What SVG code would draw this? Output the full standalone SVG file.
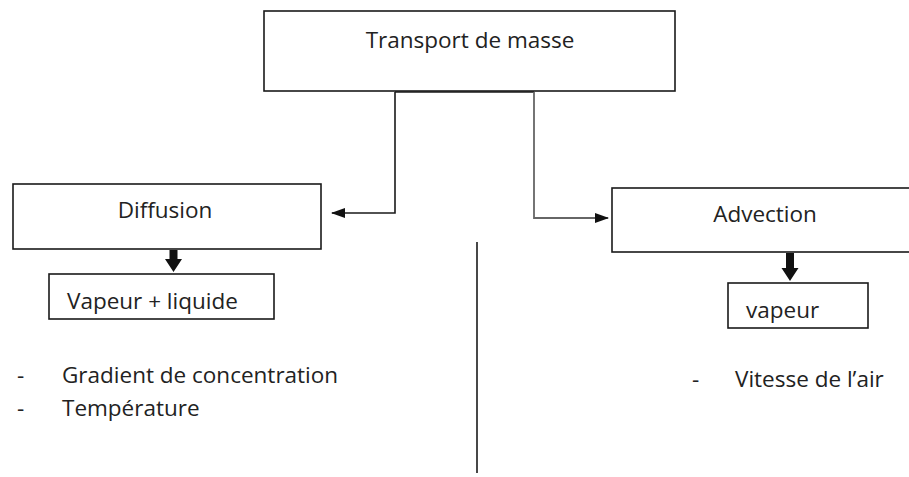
<svg xmlns="http://www.w3.org/2000/svg" width="909" height="477" viewBox="0 0 909 477">
<style>
.box{fill:#fff;stroke:#1a1a1a;stroke-width:1.6}
.t{font-family:"Open Sans","Noto Sans",sans-serif;font-size:22.5px;fill:#222}
.c{fill:none;stroke:#1a1a1a;stroke-width:1.6}
.g{fill:none;stroke:#666;stroke-width:1.8}
.blk{fill:#111}
</style>
<defs>
<marker id="ah" viewBox="0 0 14 10" refX="13" refY="5" markerWidth="14" markerHeight="10" markerUnits="userSpaceOnUse" orient="auto">
<path d="M0,0 L14,5 L0,10 Z" fill="#111"/>
</marker>
</defs>
<rect width="909" height="477" fill="#fff"/>
<g id="connectors">
<path class="c" d="M395,92 V213 H332" marker-end="url(#ah)"/>
<path class="c" d="M395,92 H534"/>
<path class="g" d="M534,92 V218 H608" marker-end="url(#ah)"/>
<path class="blk" d="M169.5,250 H177.5 V259 H182 L173.5,272 L165,259 H169.5 Z"/>
<path class="blk" d="M786,253 H794 V268 H798.5 L790,281 L781.5,268 H786 Z"/>
<line class="c" x1="477" y1="242" x2="477" y2="473"/>
</g>
<g id="transport">
<rect class="box" x="264" y="11" width="411" height="80"/>
<text class="t" x="470" y="48" text-anchor="middle">Transport de masse</text>
</g>
<g id="diffusion">
<rect class="box" x="13" y="184" width="308" height="65"/>
<text class="t" x="165" y="218" text-anchor="middle">Diffusion</text>
</g>
<g id="vapeur-liquide">
<rect class="box" x="49" y="274" width="225" height="45"/>
<text class="t" x="67" y="309">Vapeur + liquide</text>
</g>
<g id="advection">
<rect class="box" x="612" y="188" width="310" height="64"/>
<text class="t" x="765" y="222" text-anchor="middle">Advection</text>
</g>
<g id="vapeur">
<rect class="box" x="728" y="283" width="140" height="45"/>
<text class="t" x="746" y="318">vapeur</text>
</g>
<g id="diffusion-list">
<text class="t" x="17" y="383">-</text>
<text class="t" x="62" y="383">Gradient de concentration</text>
<text class="t" x="17" y="416">-</text>
<text class="t" x="62" y="416">Température</text>
</g>
<g id="advection-list">
<text class="t" x="692" y="387">-</text>
<text class="t" x="735" y="387">Vitesse de l’air</text>
</g>
</svg>
